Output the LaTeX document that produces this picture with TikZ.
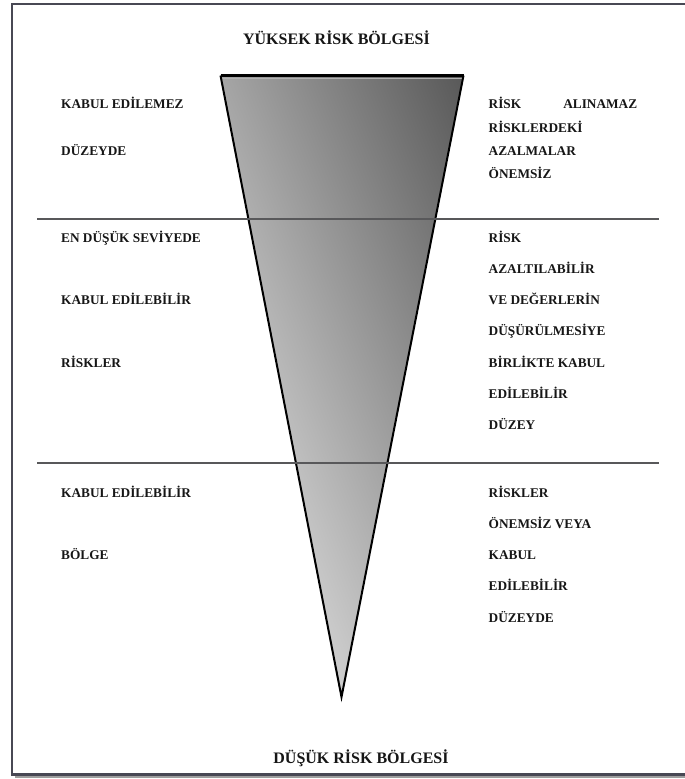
\documentclass[tikz,border=0pt]{standalone}
\usepackage{fontspec}
\setmainfont{Liberation Serif}
\definecolor{framec}{RGB}{72,72,84}
\definecolor{sepc}{RGB}{88,88,90}
\definecolor{txtc}{RGB}{22,22,22}
\begin{document}
\begin{tikzpicture}[x=1pt,y=-1pt,
  lbl/.style={anchor=base west, inner sep=0pt, font=\fontsize{13.3}{15}\selectfont\bfseries, text=txtc},
  ttl/.style={anchor=base, inner sep=0pt, font=\fontsize{16}{18}\selectfont\bfseries, text=txtc},
  sepline/.style={draw=sepc, line width=2pt},
  edge/.style={draw=black, line width=2pt, line join=miter}]
\useasboundingbox (0,0) rectangle (685,779);
% frame with shadow (right edge lies outside the picture)
\begin{scope}
\clip (0,0) rectangle (685,779);
\fill[black!38] (15,7) rectangle (730,778);
\fill[white] (12,4) rectangle (725,774.5);
\draw[framec, line width=2.4pt] (12,4) rectangle (725,774.5);
\end{scope}
% triangle
\coordinate (tl) at (220.5,75.5);
\coordinate (tr) at (463.5,75.5);
\coordinate (ap) at (341.5,697);
\begin{scope}
  \clip (tl) -- (tr) -- (ap) -- cycle;
  \shade[transform canvas={rotate around={22:(342,390)}}, left color=black!3, right color=black!66]
    (107,-300) rectangle (577,1080);
  \draw[black!30, line width=1pt] (215,78.6) -- (470,78.6);
\end{scope}
\draw[edge] (tl) -- (ap) -- (tr);
\draw[black, line width=3pt] (tl) -- (tr);
% separators
\coordinate (s1a) at (37,219);
\coordinate (s1b) at (659,219);
\coordinate (s2a) at (37,463);
\coordinate (s2b) at (659,463);
\draw[sepline] (s1a) -- (s1b);
\draw[sepline] (s2a) -- (s2b);
% titles
\node[ttl] (ttop) at (336.5,44) {YÜKSEK RİSK BÖLGESİ};
\node[ttl] (tbot) at (361,763.5) {DÜŞÜK RİSK BÖLGESİ};
% left labels
\node[lbl] (l1) at (61,108) {KABUL EDİLEMEZ};
\node[lbl] (l2) at (61,155) {DÜZEYDE};
\node[lbl] (l3) at (61,242) {EN DÜŞÜK SEVİYEDE};
\node[lbl] (l4) at (61,304) {KABUL EDİLEBİLİR};
\node[lbl] (l5) at (61,367) {RİSKLER};
\node[lbl] (l6) at (61,497) {KABUL EDİLEBİLİR};
\node[lbl] (l7) at (61,559) {BÖLGE};
% right labels
\node[lbl] (r1) at (488.5,108) {\makebox[148.5pt]{RİSK\hfill ALINAMAZ}};
\node[lbl] (r2) at (488.5,132) {RİSKLERDEKİ};
\node[lbl] (r3) at (488.5,155) {AZALMALAR};
\node[lbl] (r4) at (488.5,178) {ÖNEMSİZ};
\node[lbl] (r5) at (488.5,242) {RİSK};
\node[lbl] (r6) at (488.5,273) {AZALTILABİLİR};
\node[lbl] (r7) at (488.5,304) {VE DEĞERLERİN};
\node[lbl] (r8) at (488.5,335) {DÜŞÜRÜLMESİYE};
\node[lbl] (r9) at (488.5,367) {BİRLİKTE KABUL};
\node[lbl] (r10) at (488.5,398) {EDİLEBİLİR};
\node[lbl] (r11) at (488.5,429) {DÜZEY};
\node[lbl] (r12) at (488.5,497) {RİSKLER};
\node[lbl] (r13) at (488.5,528) {ÖNEMSİZ VEYA};
\node[lbl] (r14) at (488.5,559) {KABUL};
\node[lbl] (r15) at (488.5,590) {EDİLEBİLİR};
\node[lbl] (r16) at (488.5,622) {DÜZEYDE};
\end{tikzpicture}
\end{document}
